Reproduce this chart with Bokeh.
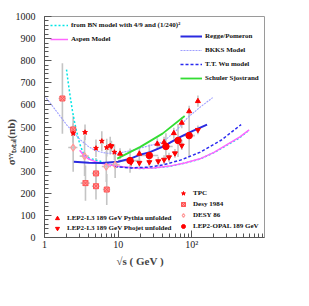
import numpy as np
from bokeh.plotting import figure
from bokeh.models import Legend, LegendItem, FixedTicker, SingleIntervalTicker, Title
from bokeh.embed import file_html
from bokeh.resources import INLINE

# ---------------- model curves ----------------
bn_x = [1.99, 2.1, 2.25, 2.39, 2.55, 2.71, 3.0, 3.37, 4.0, 5.0, 5.74, 7, 10, 15, 20, 30, 50, 80, 129, 200, 300, 450, 590]
bn_y = [760, 700, 630, 575, 525, 484, 425, 380, 360, 350, 345, 333, 322, 315, 312, 314, 322, 336, 355, 384, 418, 452, 484]
aspen_x = [3.0, 3.4, 4, 5, 7, 10, 15, 20, 30, 50, 80, 129, 200, 300, 450, 600]
aspen_y = [395, 372, 355, 342, 330, 322, 316, 313, 315, 323, 337, 356, 385, 420, 455, 487]
regge_x = [2.5, 4, 6, 10, 15, 20, 27, 40, 69, 100, 161]
regge_y = [343, 338, 337, 343, 358, 375, 386, 410, 454, 480, 511]
bkks_x = [1, 1.5, 2, 3, 4, 5, 7, 10, 15, 20, 30, 40, 60, 88, 130, 192]
bkks_y = [642, 565, 510, 445, 410, 392, 381, 382, 393, 405, 420, 431, 480, 543, 590, 633]
wu_x = [9, 15, 25, 40, 70, 128, 250, 467]
wu_y = [320, 315, 318, 328, 350, 385, 440, 511]
ss_x = [9.7, 20, 40, 80]
ss_y = [357, 410, 470, 550]

# ---------------- data points ----------------
tpc_x = [2.45, 3.55, 5.0, 6.0, 7.0, 7.8, 8.9]
tpc_y = [471, 476, 404, 436, 407, 416, 386]
tpc_e = [40, 35, 40, 45, 40, 40, 35]

d84_x = [1.75, 2.45, 3.6, 5.0, 5.0, 7.0]
d84_y = [629, 489, 246, 290, 232, 217]
d84_e = [160, 60, 80, 70, 60, 70]
d84_xl = [1.55, 2.2, 3.1, 4.4, 4.4, 6.2]
d84_xh = [1.95, 2.7, 4.1, 5.6, 5.6, 7.8]

d86_x = [2.45, 3.5, 6.9, 9.1]
d86_y = [407, 368, 321, 329]
d86_e = [110, 90, 70, 60]
d86_xl = [2.1, 3.0, 6.0, 8.0]
d86_xh = [2.8, 4.0, 8.0, 10.5]

opal_x = [14.5, 26.5, 44.5, 65, 92]
opal_y = [348, 371, 412, 439, 461]
opal_e = [55, 50, 60, 75, 95]
opal_xl = [10, 20, 35, 55, 75]
opal_xh = [20, 35, 55, 75, 110]

pyth_x = [10.6, 19.4, 34, 42, 57, 73, 92, 121]
pyth_y = [379, 379, 424, 431, 472, 519, 571, 617]
pyth_e = [25, 25, 25, 25, 25, 25, 25, 25]

phoj_x = [8.1, 15, 19.4, 26.5, 35, 42, 49, 59, 73, 121]
phoj_y = [413, 340, 338, 341, 345, 352, 363, 381, 416, 487]
phoj_e = [25, 20, 20, 20, 20, 20, 20, 20, 20, 20]

x_ticks = [1, 10, 100, 1000]
x_tick_labels = {1: "1", 10: "10", 100: "10\u00b2", 1000: ""}

SERIF = "Liberation Serif"
GREY = "#c4c4c4"

p = figure(width=309, height=306, x_axis_type="log",
           x_range=(1, 970), y_range=(0, 1000),
           output_backend="svg", toolbar_location=None,
           min_border_left=44, min_border_right=45, min_border_top=16, min_border_bottom=69)
p.xgrid.visible = False
p.ygrid.visible = False
p.outline_line_color = "#9a9a9a"
p.outline_line_width = 1

minor = [m * d for d in (1, 10, 100) for m in range(2, 10)]
p.xaxis.ticker = FixedTicker(ticks=x_ticks, minor_ticks=minor)
p.xaxis.major_label_overrides = x_tick_labels
p.yaxis.ticker = SingleIntervalTicker(interval=100, num_minor_ticks=5)
for ax in (p.xaxis[0], p.yaxis[0]):
    ax.major_tick_in = 7
    ax.major_tick_out = 0
    ax.minor_tick_in = 4
    ax.minor_tick_out = 0
    ax.axis_line_color = "#555555"
    ax.major_tick_line_color = "#555555"
    ax.minor_tick_line_color = "#555555"
    ax.major_label_text_font = SERIF
    ax.major_label_text_font_size = "10px"
    ax.major_label_text_color = "#222222"
p.xaxis.major_label_standoff = 1
p.yaxis.major_label_standoff = 9

# y-axis title (sigma, superscript gamma-gamma, subscript total), shifted downward
NB = "\u00a0"
p.yaxis.axis_label = "\u03c3\u1d5e\u1d5e\u209c\u2092\u209c\u2090\u2097(nb)" + NB * 11
p.yaxis.axis_label_text_font = SERIF
p.yaxis.axis_label_text_font_style = "bold"
p.yaxis.axis_label_text_font_size = "11px"
p.yaxis.axis_label_standoff = -4

# x-axis title placed below the tick labels, left-offset as in the original
p.add_layout(Title(text="\u221as ( GeV )", align="left", offset=72, text_font=SERIF,
                   text_font_style="bold", text_font_size="11px", standoff=0), "below")


def errbars(xs, ys, es, xl=None, xh=None):
    ylo = [y - e for y, e in zip(ys, es)]
    yhi = [y + e for y, e in zip(ys, es)]
    p.segment(xs, ylo, xs, yhi, line_color=GREY, line_width=1.6)
    if xl is not None:
        p.segment(xl, ys, xh, ys, line_color=GREY, line_width=1.6)


errbars(d84_x, d84_y, d84_e, d84_xl, d84_xh)
errbars(d86_x, d86_y, d86_e, d86_xl, d86_xh)
errbars(opal_x, opal_y, opal_e, opal_xl, opal_xh)
errbars(tpc_x, tpc_y, tpc_e)
errbars(pyth_x, pyth_y, pyth_e)
errbars(phoj_x, phoj_y, phoj_e)

r_bn = p.line(bn_x, bn_y, line_color="#00e5e5", line_width=1.5, line_dash="2 2")
r_aspen = p.line(aspen_x, aspen_y, line_color="#ff66ff", line_width=1.5)
r_bkks = p.line(bkks_x, bkks_y, line_color="#9f9fff", line_width=1.1, line_dash="2 1")
r_wu = p.line(wu_x, wu_y, line_color="#2a2af0", line_width=1.5, line_dash="3 2")
r_regge = p.line(regge_x, regge_y, line_color="#2a2ae0", line_width=2)
r_ss = p.line(ss_x, ss_y, line_color="#33dd33", line_width=1.8)

r_d86 = p.scatter(d86_x, d86_y, marker="diamond", size=7, fill_color=None, line_color="#ff9a9a", line_width=1.2)
r_d84 = p.scatter(d84_x, d84_y, marker="square_x", size=5, fill_color="#ff9a9a", line_color="#ff5555", line_width=1)
r_tpc = p.scatter(tpc_x, tpc_y, marker="star", size=5, fill_color="red", line_color="red")
r_opal = p.scatter(opal_x, opal_y, marker="circle", size=6.5, fill_color="red", line_color="red")
r_pyth = p.scatter(pyth_x, pyth_y, marker="triangle", size=5, fill_color="red", line_color="red")
r_phoj = p.scatter(phoj_x, phoj_y, marker="inverted_triangle", size=5, fill_color="red", line_color="red")


def legend(items, loc, gw, gh, lh, sp, standoff):
    lg = Legend(items=[LegendItem(label=t, renderers=[r]) for t, r in items],
                location=loc, orientation="vertical",
                glyph_width=gw, glyph_height=gh, label_height=lh, spacing=sp,
                label_standoff=standoff, padding=0, margin=0,
                border_line_alpha=0, background_fill_alpha=0,
                label_text_font=SERIF, label_text_font_style="bold",
                label_text_font_size="7px", label_text_color="#111111")
    p.add_layout(lg)


legend([("from BN model with 4/9 and (1/240)\u00b2", r_bn), ("Aspen Model", r_aspen)],
       (6, 193), 18, 10, 10, 4, 3)
legend([("Regge/Pomeron", r_regge), ("BKKS Model", r_bkks), ("T.T. Wu model", r_wu),
        ("Schuler Sjostrand", r_ss)], (136, 154), 22, 10, 10, 4, 3)
legend([("LEP2-L3 189 GeV Pythia unfolded", r_pyth), ("LEP2-L3 189 GeV Phojet unfolded", r_phoj)],
       (8, 4), 10, 10, 10, 0, 5)
legend([("TPC", r_tpc), ("Desy 1984", r_d84), ("DESY 86", r_d86), ("LEP2-OPAL 189 GeV", r_opal)],
       (134, 6), 10, 10, 10, 1, 5)

open("out.html", "w").write(file_html(p, INLINE))
